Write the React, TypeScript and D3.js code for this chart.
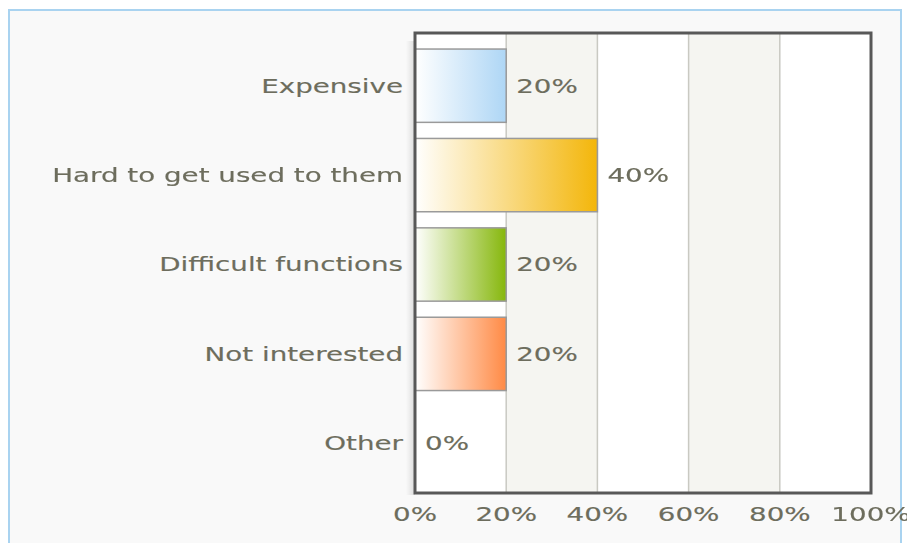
import * as d3 from 'd3';

const categories = ['Expensive', 'Hard to get used to them', 'Difficult functions', 'Not interested', 'Other'];
const values = [20, 40, 20, 20, 0];
const colors = ['#aed6f5', '#f3b60a', '#86b70c', '#ff8a45', '#cccccc'];
const ticks = [0, 20, 40, 60, 80, 100];

const W = 907;
const H = 543;
const plot = { left: 415, top: 33, right: 871, bottom: 493 };
const SX = 1.46; // horizontal stretch of the reference text
const textColor = '#6d6d5d';

export default function App() {
  const x = d3.scaleLinear().domain([0, 100]).range([plot.left, plot.right]);
  const y = d3
    .scaleBand<string>()
    .domain(categories)
    .range([41, 488])
    .paddingInner(0.18)
    .paddingOuter(0.09);

  const label = (tx: number, ty: number, txt: string, anchor: string, key: string) => (
    <text
      key={key}
      transform={`translate(${tx},${ty}) scale(${SX},1)`}
      textAnchor={anchor}
      dy="0.36em"
      fill={textColor}
      stroke={textColor}
      strokeWidth={0.15}
      fontSize={19}
      fontFamily="DejaVu Sans, Verdana, sans-serif"
    >
      {txt}
    </text>
  );

  return (
    <svg width={W} height={H} style={{ position: 'fixed', left: 0, top: 0 }}>
      <defs>
        {colors.map((c, i) => (
          <linearGradient key={i} id={`g${i}`} x1="0" x2="1" y1="0" y2="0">
            <stop offset="0" stopColor="#ffffff" />
            <stop offset="1" stopColor={c} />
          </linearGradient>
        ))}
        <linearGradient id="shadow" x1="0" x2="1">
          <stop offset="0" stopColor="#000" stopOpacity={0} />
          <stop offset="1" stopColor="#000" stopOpacity={0.12} />
        </linearGradient>
      </defs>
      <rect x={0} y={0} width={W} height={H} fill="#ffffff" />
      <rect x={9} y={10} width={892} height={560} fill="#f9f9f9" stroke="#a9d3f0" strokeWidth={2} />

      {/* shadow left of the frame */}
      <rect x={plot.left - 9} y={plot.top + 8} width={9} height={plot.bottom - plot.top - 6} fill="url(#shadow)" />

      {/* alternating bands */}
      <rect x={plot.left} y={plot.top} width={plot.right - plot.left} height={plot.bottom - plot.top} fill="#ffffff" />
      {ticks.slice(0, -1).map((t, i) =>
        i % 2 === 1 ? (
          <rect key={t} x={x(t)} y={plot.top} width={x(ticks[i + 1]) - x(t)} height={plot.bottom - plot.top} fill="#f5f5f1" />
        ) : null,
      )}
      {ticks.slice(1, -1).map((t) => (
        <line key={t} x1={x(t)} x2={x(t)} y1={plot.top} y2={plot.bottom} stroke="#c9c9c2" strokeWidth={1.5} />
      ))}

      {/* bars */}
      {categories.map((c, i) =>
        values[i] > 0 ? (
          <rect
            key={c}
            x={x(0)}
            y={y(c)}
            width={x(values[i]) - x(0)}
            height={y.bandwidth()}
            fill={`url(#g${i})`}
            stroke="#9a9a9a"
            strokeWidth={1.5}
          />
        ) : null,
      )}

      {/* frame */}
      <rect
        x={plot.left}
        y={plot.top}
        width={plot.right - plot.left}
        height={plot.bottom - plot.top}
        fill="none"
        stroke="#585858"
        strokeWidth={3}
      />

      {/* category labels */}
      {categories.map((c) => label(plot.left - 12, (y(c) ?? 0) + y.bandwidth() / 2, c, 'end', 'c' + c))}
      {/* value labels */}
      {categories.map((c, i) =>
        label(x(values[i]) + 10, (y(c) ?? 0) + y.bandwidth() / 2, `${values[i]}%`, 'start', 'v' + c),
      )}
      {/* x ticks */}
      {ticks.map((t) => label(x(t), 514, `${t}%`, 'middle', 't' + t))}
    </svg>
  );
}
